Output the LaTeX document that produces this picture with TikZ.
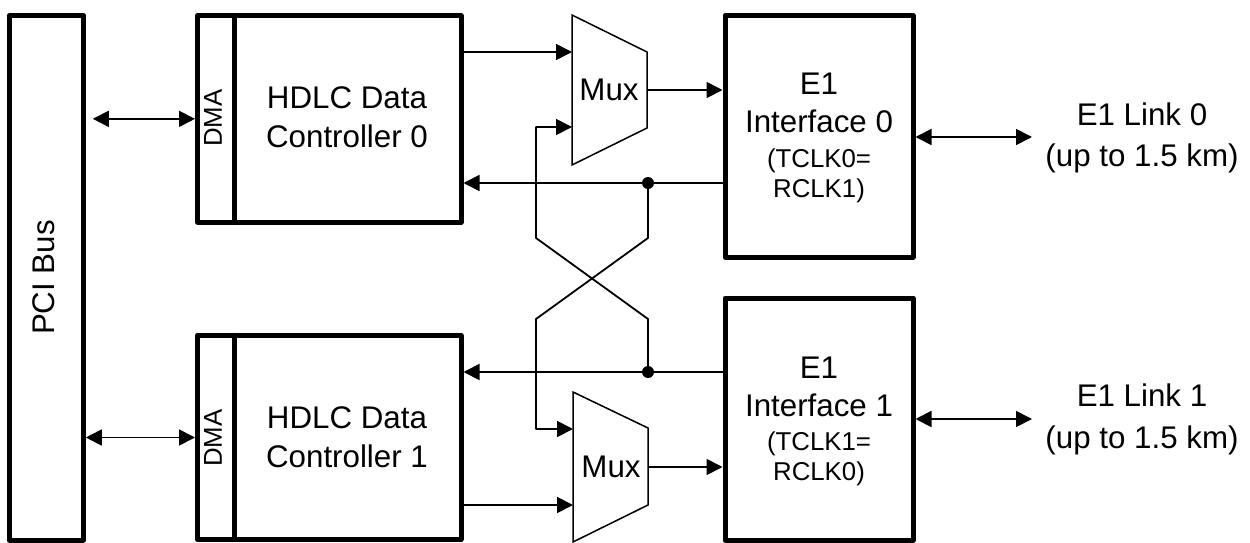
\documentclass[tikz,border=0pt]{standalone}
\usepackage{fontspec}
\setmainfont{Liberation Sans}
\usetikzlibrary{arrows.meta,calc}
\newcommand\mainsz{\fontsize{31.3pt}{38pt}\selectfont}
\newcommand\smallsz{\fontsize{25.8pt}{29pt}\selectfont}
\begin{document}
\begin{tikzpicture}[x=1pt,y=-1pt,
  box/.style={draw,line width=5pt,line join=round,inner sep=0pt},
  thin/.style={line width=1.8pt},
  arr/.style={thin,-{Triangle[length=16pt,width=16pt]}},
  dbl/.style={thin,{Triangle[length=16pt,width=16pt]}-{Triangle[length=16pt,width=16pt]}},
  txt/.style={inner sep=0pt,anchor=base,font=\mainsz},
  stxt/.style={inner sep=0pt,anchor=base,font=\smallsz},
  rtxt/.style={inner sep=0pt,rotate=90}]
\useasboundingbox (0,0) rectangle (1250,543);

% PCI bus
\node[box,minimum width=74.1pt,minimum height=524.3pt] (pci) at (46.25,277.85) {};
\node[rtxt,font=\mainsz] (pcit) at (43.5,277.5) {PCI Bus};

% HDLC controllers
\node[box,minimum width=263.5pt,minimum height=206.3pt] (hdlc0) at (329.25,118.85) {};
\draw[line width=5pt] ([xshift=39pt]hdlc0.north west) -- ([xshift=39pt]hdlc0.south west);
\node[rtxt,font=\smallsz] (dma0) at (213,118) {DMA};
\node[txt] (h0a) at (347,108) {HDLC Data};
\node[txt] (h0b) at (347,147) {Controller 0};

\node[box,minimum width=263.5pt,minimum height=204.4pt] (hdlc1) at (329.25,437.5) {};
\draw[line width=5pt] ([xshift=39pt]hdlc1.north west) -- ([xshift=39pt]hdlc1.south west);
\node[rtxt,font=\smallsz] (dma1) at (213,438) {DMA};
\node[txt] (h1a) at (347,428) {HDLC Data};
\node[txt] (h1b) at (347,467) {Controller 1};

% Muxes
\coordinate (m0a) at (572,15);
\coordinate (m0b) at (647,52);
\coordinate (m0c) at (647,128);
\coordinate (m0d) at (572,165);
\draw[line width=1.5pt] (m0a) -- (m0b) -- (m0c) -- (m0d) -- cycle;
\node[txt] (mux0) at (609,100) {Mux};
\coordinate (m0in1) at (572,52);
\coordinate (m0in2) at (572,127);
\coordinate (m0out) at (647,90);

\coordinate (m1a) at (573,392);
\coordinate (m1b) at (648,428);
\coordinate (m1c) at (648,505);
\coordinate (m1d) at (573,542);
\draw[line width=1.5pt] (m1a) -- (m1b) -- (m1c) -- (m1d) -- cycle;
\node[txt] (mux1) at (611,477) {Mux};
\coordinate (m1in1) at (573,429);
\coordinate (m1in2) at (573,505);
\coordinate (m1out) at (648,467);

% E1 interfaces
\node[box,minimum width=188pt,minimum height=241.7pt] (e10) at (819,136.15) {};
\node[txt] (e10a) at (819,95) {E1};
\node[txt] (e10b) at (819,132) {Interface 0};
\node[stxt] (e10c) at (819,167) {(TCLK0=};
\node[stxt] (e10d) at (819,197) {RCLK1)};

\node[box,minimum width=188pt,minimum height=242pt] (e11) at (819,419) {};
\node[txt] (e11a) at (819,378) {E1};
\node[txt] (e11b) at (819,416) {Interface 1};
\node[stxt] (e11c) at (819,450) {(TCLK1=};
\node[stxt] (e11d) at (819,480) {RCLK0)};

% Links
\coordinate (l0) at (1032,137);
\coordinate (l1) at (1032,419);
\node[txt] (lk0a) at (1142,125.7) {E1 Link 0};
\node[txt] (lk0b) at (1142,166.7) {(up to 1.5 km)};
\node[txt] (lk1a) at (1142,406.7) {E1 Link 1};
\node[txt] (lk1b) at (1142,448.3) {(up to 1.5 km)};

% Connectors
\draw[dbl,shorten <=7pt] (pci.east |- hdlc0) -- (hdlc0.west);
\draw[dbl] (pci.east |- hdlc1) -- (hdlc1.west);

\draw[arr] (hdlc0.east |- m0in1) -- (m0in1);
\draw[arr] (m0out) -- (e10.west |- m0out);
\draw[arr] (hdlc1.east |- m1in2) -- (m1in2);
\draw[arr] (m1out) -- (e11.west |- m1out);

\coordinate (dot0) at (648,183);
\coordinate (dot1) at (648,372);
\draw[arr] (e10.west |- dot0) -- (hdlc0.east |- dot0);
\draw[arr] (e11.west |- dot1) -- (hdlc1.east |- dot1);
\fill (dot0) circle (6pt);
\fill (dot1) circle (6pt);

\draw[arr,line join=round] (dot0) -- (648,238) -- (536,319) -- (536,429) -- (m1in1);
\draw[arr,line join=round] (dot1) -- (648,319) -- (536,238) -- (536,127) -- (m0in2);

\draw[dbl] (e10.east |- l0) -- (l0);
\draw[dbl] (e11.east |- l1) -- (l1);
\end{tikzpicture}
\end{document}
